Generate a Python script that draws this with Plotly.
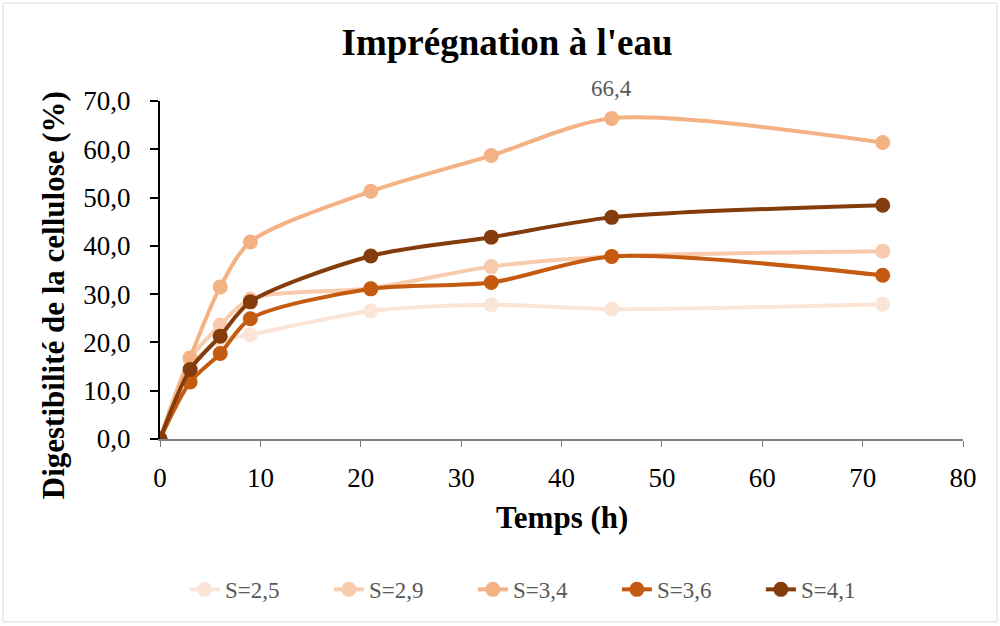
import plotly.graph_objects as go

temps = [0, 3, 6, 9, 21, 33, 45, 72]
s_2_5 = [0.0, 15.0, 20.5, 21.6, 26.5, 27.8, 26.9, 27.9]
s_2_9 = [0.0, 16.5, 23.6, 29.0, 31.2, 35.7, 37.8, 38.9]
s_3_4 = [0.0, 16.8, 31.5, 40.8, 51.3, 58.7, 66.4, 61.4]
s_3_6 = [0.0, 11.8, 17.7, 24.9, 31.1, 32.4, 37.8, 33.9]
s_4_1 = [0.0, 14.4, 21.3, 28.4, 37.9, 41.8, 45.9, 48.4]

names = ["S=2,5", "S=2,9", "S=3,4", "S=3,6", "S=4,1"]
series = [s_2_5, s_2_9, s_3_4, s_3_6, s_4_1]
colors = ["#FBE5D6", "#F8CBAD", "#F4B183", "#C55A11", "#843C0C"]

FONT = "Liberation Serif"

fig = go.Figure()
for name, vals, color in zip(names, series, colors):
    fig.add_trace(go.Scatter(x=temps, y=vals, name=name, mode="lines+markers",
                             line=dict(color=color, width=4, shape="spline", smoothing=0.8),
                             marker=dict(color=color, size=15)))

# label on the max of S=3,4
peak = max(s_3_4)
fig.add_annotation(x=temps[s_3_4.index(peak)], y=peak, text="66,4", showarrow=False,
                   yshift=30, font=dict(family=FONT, size=23, color="#595959"))

# axis titles placed like the original
fig.add_annotation(x=0.5, y=-0.231, xref="paper", yref="paper", text="<b>Temps (h)</b>",
                   showarrow=False, xanchor="center", yanchor="middle",
                   font=dict(family=FONT, size=31, color="black"))
fig.add_annotation(x=-0.133, y=0.426, xref="paper", yref="paper", textangle=-90,
                   text="<b>Digestibilité de la cellulose (%)</b>",
                   showarrow=False, xanchor="center", yanchor="middle",
                   font=dict(family=FONT, size=31, color="black"))

# outer border of the chart
fig.add_shape(type="rect", xref="paper", yref="paper", x0=-0.1955, x1=1.0423, y0=-0.541, y1=1.29,
              line=dict(color="#D9D9D9", width=1), fillcolor="rgba(0,0,0,0)", layer="below")

fig.update_layout(
    width=1000, height=626,
    margin=dict(l=160, r=37, t=101, b=187),
    paper_bgcolor="white", plot_bgcolor="white",
    separators=", ",
    font=dict(family=FONT, color="black"),
    title=dict(text="<b>Imprégnation à l'eau</b>", x=0.507, xanchor="center", y=0.933, yanchor="middle",
               font=dict(family=FONT, size=37, color="black")),
    xaxis=dict(range=[0, 80], dtick=10, showgrid=False, zeroline=False,
               showline=True, linecolor="#7F7F7F", linewidth=1.5,
               ticks="outside", ticklen=6, tickcolor="#7F7F7F", ticklabelstandoff=8,
               tickfont=dict(size=27, color="black")),
    yaxis=dict(range=[0, 70], dtick=10, tickformat=".1f", showgrid=False, zeroline=False,
               showline=True, linecolor="black", linewidth=2,
               ticks="outside", ticklen=8, tickcolor="black", tickwidth=2, ticklabelstandoff=14,
               tickfont=dict(size=27, color="black")),
    showlegend=True,
    legend=dict(orientation="h", x=0.031, xanchor="left", y=-0.445, yanchor="middle",
                font=dict(size=23, color="#595959"), itemwidth=30,
                entrywidth=99, entrywidthmode="pixels"),
)

fig.write_html("out.html", config={"displayModeBar": False},
               post_script="document.body.style.margin='0';")
